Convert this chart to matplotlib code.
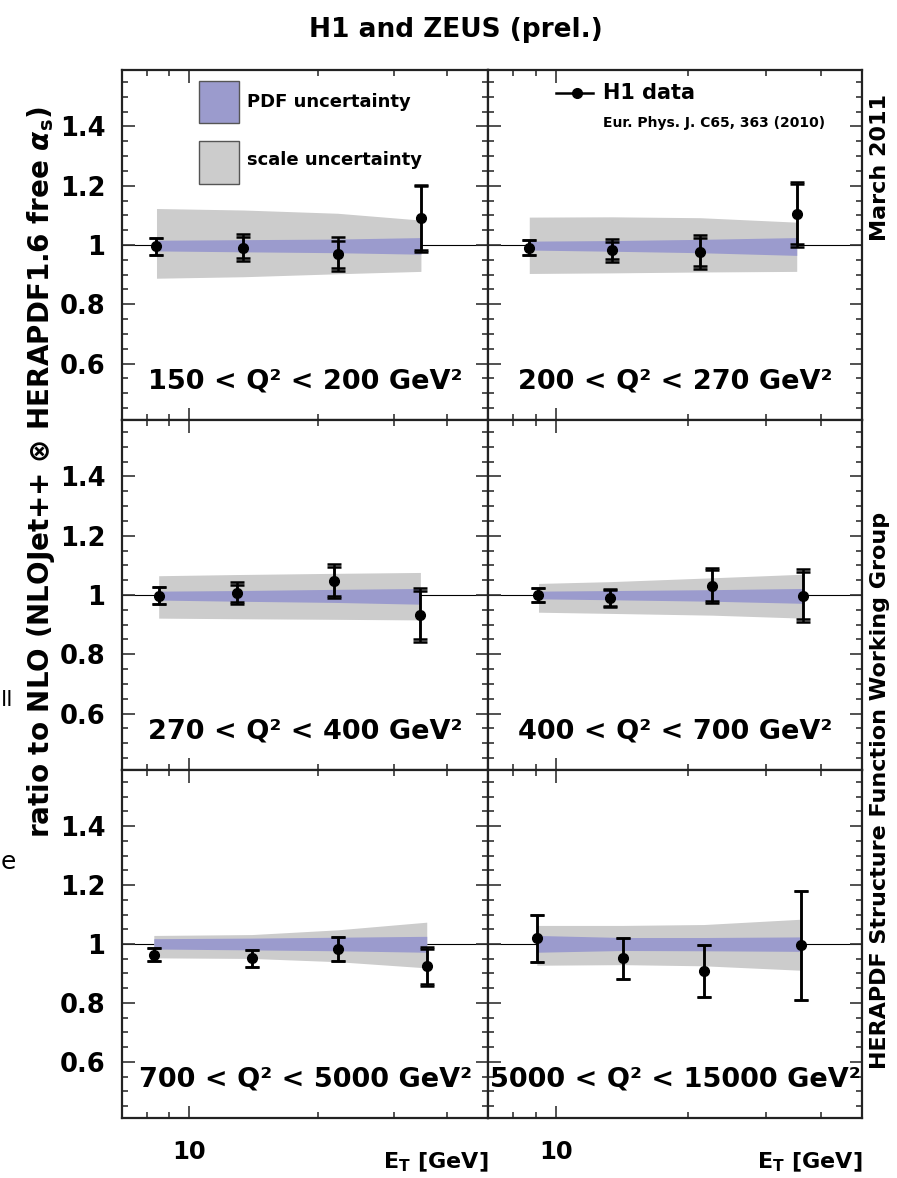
# Jet cross section ratios to NLO in six Q^2 bins, HERA inclusive jets.
import matplotlib.pyplot as plt
from matplotlib.patches import Rectangle
from matplotlib.ticker import FixedLocator, NullFormatter, FuncFormatter

plt.rcParams['font.family'] = ['DejaVu Sans']
plt.rcParams['font.weight'] = 'bold'
plt.rcParams['mathtext.fontset'] = 'dejavusans'

# --- data: one entry per Q^2 bin, four E_T points each ---
q2_labels = [
    "150 < Q² < 200 GeV²",
    "200 < Q² < 270 GeV²",
    "270 < Q² < 400 GeV²",
    "400 < Q² < 700 GeV²",
    "700 < Q² < 5000 GeV²",
    "5000 < Q² < 15000 GeV²",
]

et_mean = [
    [8.42, 13.4, 22.2, 34.7],
    [8.69, 13.4, 21.3, 35.3],
    [8.52, 12.96, 21.8, 34.6],
    [9.12, 13.27, 22.69, 36.4],
    [8.30, 14.03, 22.2, 35.8],
    [9.04, 14.2, 21.7, 36.1],
]

ratio = [
    [0.995, 0.991, 0.969, 1.090],
    [0.991, 0.982, 0.977, 1.103],
    [0.998, 1.006, 1.047, 0.933],
    [1.000, 0.989, 1.032, 0.998],
    [0.964, 0.951, 0.983, 0.925],
    [1.020, 0.951, 0.908, 0.995],
]

err_total = [
    [0.028, 0.045, 0.058, 0.112],
    [0.025, 0.038, 0.057, 0.110],
    [0.028, 0.037, 0.058, 0.090],
    [0.025, 0.031, 0.060, 0.088],
    [0.023, 0.028, 0.042, 0.066],
    [0.080, 0.068, 0.087, 0.185],
]

err_stat = [
    [0.028, 0.036, 0.046, 0.108],
    [0.025, 0.029, 0.048, 0.101],
    [0.028, 0.028, 0.049, 0.081],
    [0.025, 0.027, 0.052, 0.080],
    [0.023, 0.028, 0.042, 0.059],
    [0.080, 0.068, 0.087, 0.185],
]

scale_hi = [
    [1.123, 1.118, 1.107, 1.084],
    [1.094, 1.095, 1.092, 1.077],
    [1.065, 1.069, 1.073, 1.076],
    [1.039, 1.045, 1.058, 1.070],
    [1.029, 1.032, 1.048, 1.074],
    [1.063, 1.063, 1.066, 1.084],
]
scale_lo = [
    [0.888, 0.893, 0.903, 0.911],
    [0.904, 0.906, 0.909, 0.911],
    [0.922, 0.920, 0.918, 0.916],
    [0.942, 0.938, 0.932, 0.922],
    [0.953, 0.951, 0.940, 0.919],
    [0.928, 0.930, 0.926, 0.911],
]
pdf_hi = [
    [1.016, 1.018, 1.020, 1.025],
    [1.013, 1.015, 1.019, 1.025],
    [1.013, 1.015, 1.019, 1.022],
    [1.013, 1.015, 1.018, 1.022],
    [1.018, 1.020, 1.023, 1.026],
    [1.029, 1.022, 1.022, 1.024],
]
pdf_lo = [
    [0.980, 0.977, 0.974, 0.969],
    [0.983, 0.979, 0.974, 0.965],
    [0.983, 0.979, 0.975, 0.969],
    [0.987, 0.984, 0.979, 0.972],
    [0.983, 0.980, 0.977, 0.972],
    [0.972, 0.978, 0.977, 0.975],
]

y_ticks = [0.6, 0.8, 1.0, 1.2, 1.4]
x_major = [10]
x_minor = [8, 9, 20, 30, 40]

PDF_COLOR = "#9b9bcd"
SCALE_COLOR = "#cccccc"

W, H = 897, 1178
fig = plt.figure(figsize=(W / 100, H / 100), dpi=100)

col_edges = [(122, 488), (488, 862)]
row_edges = [(70, 420), (420, 770), (770, 1118)]


def px_axes(x0, x1, y0, y1):
    return fig.add_axes([x0 / W, 1 - y1 / H, (x1 - x0) / W, (y1 - y0) / H])


axes = []
for r, (ya, yb) in enumerate(row_edges):
    for c, (xa, xb) in enumerate(col_edges):
        axes.append(px_axes(xa, xb, ya, yb))

for i, ax in enumerate(axes):
    row, col = divmod(i, 2)
    x = et_mean[i]

    ax.axhline(1.0, color="black", lw=0.8, zorder=0.5)
    ax.fill_between(x, scale_lo[i], scale_hi[i], color=SCALE_COLOR, lw=0, zorder=1)
    ax.fill_between(x, pdf_lo[i], pdf_hi[i], color=PDF_COLOR, lw=0, zorder=2)

    ax.errorbar(x, ratio[i], yerr=err_total[i], fmt="o", color="black",
                ms=7, lw=1.8, capsize=5, capthick=1.8, zorder=5)
    ax.errorbar(x, ratio[i], yerr=err_stat[i], fmt="none", ecolor="black",
                lw=1.8, capsize=5, capthick=1.8, zorder=5)

    ax.set_xscale("log")
    ax.set_xlim(7.0, 49.7)
    ax.set_ylim(0.41, 1.59)

    ax.xaxis.set_major_locator(FixedLocator(x_major))
    ax.xaxis.set_minor_locator(FixedLocator(x_minor))
    ax.xaxis.set_minor_formatter(NullFormatter())
    ax.yaxis.set_major_locator(FixedLocator(y_ticks))
    ax.yaxis.set_minor_locator(FixedLocator([0.45 + 0.05 * k for k in range(23)]))
    ax.yaxis.set_major_formatter(FuncFormatter(lambda v, p: "%g" % v))
    ax.xaxis.set_major_formatter(FuncFormatter(lambda v, p: "%g" % v))

    ax.tick_params(which="both", direction="in", top=True, right=True,
                   width=1.2, color="#333333")
    ax.tick_params(which="major", length=9, labelsize=18.5, pad=12)
    ax.tick_params(which="minor", length=4)
    ax.tick_params(axis="x", which="major", pad=16, labelsize=17.5)

    if col == 1:
        ax.tick_params(axis="y", labelleft=False)
    if row < 2:
        ax.tick_params(axis="x", labelbottom=False)

    for s in ax.spines.values():
        s.set_linewidth(1.6)
        s.set_color("#222222")

    ax.text(0.5, 0.09, q2_labels[i], transform=ax.transAxes, ha="center",
            va="baseline", fontsize=19.5, fontweight="bold")

# uncertainty legend (top-left panel)
ax0 = axes[0]
ax0.add_patch(Rectangle((0.210, 0.849), 0.109, 0.12, transform=ax0.transAxes,
                        facecolor=PDF_COLOR, edgecolor="#555555", lw=1.0))
ax0.add_patch(Rectangle((0.210, 0.674), 0.109, 0.123, transform=ax0.transAxes,
                        facecolor=SCALE_COLOR, edgecolor="#555555", lw=1.0))
ax0.text(0.342, 0.909, "PDF uncertainty", transform=ax0.transAxes,
         va="center", fontsize=13)
ax0.text(0.342, 0.743, "scale uncertainty", transform=ax0.transAxes,
         va="center", fontsize=13)

# data legend (top-right panel)
ax1 = axes[1]
ax1.plot([0.182, 0.281], [0.934, 0.934], color="black", lw=1.8,
         transform=ax1.transAxes)
ax1.plot([0.238], [0.934], "o", color="black", ms=7, transform=ax1.transAxes)
ax1.text(0.307, 0.934, "H1 data", transform=ax1.transAxes, va="center",
         fontsize=15)
ax1.text(0.307, 0.849, "Eur. Phys. J. C65, 363 (2010)", transform=ax1.transAxes,
         va="center", fontsize=10)

# titles and side labels
fig.text(456 / W, 1 - 30 / H, "H1 and ZEUS (prel.)", ha="center", va="center",
         fontsize=19)
fig.text(41 / W, 1 - 472 / H,
         r"ratio to NLO (NLOJet++ ⊗ HERAPDF1.6 free $\alpha_{\mathbf{s}}$)",
         rotation=90, ha="center", va="center", fontsize=20)
fig.text(880 / W, 1 - 167 / H, "March 2011", rotation=90, ha="center",
         va="center", fontsize=16)
fig.text(880 / W, 1 - 790 / H, "HERAPDF Structure Function Working Group",
         rotation=90, ha="center", va="center", fontsize=16)
for xr in (488, 862):
    fig.text(xr / W, 1 - 1162 / H, r"E$_{\mathbf{T}}$ [GeV]", ha="right",
             va="center", fontsize=16)

# small glyph fragments along the left border
fig.text(1 / W, 1 - 700 / H, "ll", ha="left", va="center", fontsize=16,
         fontweight="normal")
fig.text(1 / W, 1 - 862 / H, "e", ha="left", va="center", fontsize=18,
         fontweight="normal")

fig.savefig("out.png", dpi=100)
